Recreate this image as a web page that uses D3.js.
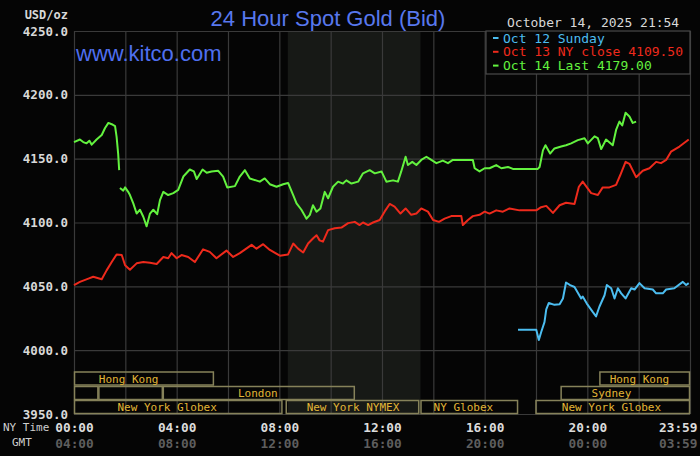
<!DOCTYPE html>
<html>
<head>
<meta charset="utf-8">
<script src="https://cdn.jsdelivr.net/npm/d3@7"></script>
<style>
  body { margin: 0; background: #050505; }
  svg { display: block; }
</style>
</head>
<body>
<div id="chart"></div>
<script>
// price series, [hour of NY day, price]; null = gap in the feed
var oct12 = [[17.3,4016],[18.01,4016],[18.11,4008],[18.2,4014],[18.33,4022],[18.4,4032],[18.5,4037],[18.72,4035.5],[18.92,4036],[19.05,4040.5],[19.17,4053],[19.33,4051],[19.5,4049.5],[19.76,4040.5],[19.82,4042],[19.98,4036.5],[20.21,4030],[20.34,4026.5],[20.47,4034],[20.67,4043],[20.76,4051],[20.93,4048.5],[21.06,4040.5],[21.19,4048.5],[21.32,4044.5],[21.49,4040.5],[21.71,4048.5],[21.84,4047.5],[22.03,4052.5],[22.23,4048.5],[22.55,4047.5],[22.68,4044.5],[22.94,4044.5],[23.07,4047.5],[23.39,4048.5],[23.72,4053.5],[23.85,4051],[23.95,4052.5]];

var oct13 = [[0,4051],[0.23,4053.5],[0.56,4056],[0.75,4057.5],[1.08,4055.5],[1.27,4062.5],[1.47,4069],[1.66,4075],[1.86,4074.5],[1.99,4066.5],[2.18,4063],[2.44,4068],[2.7,4069],[2.96,4068.5],[3.22,4067.5],[3.48,4073],[3.67,4072],[3.8,4076],[4,4072],[4.19,4074.5],[4.45,4073],[4.71,4069],[5.03,4079],[5.29,4077],[5.55,4072],[5.94,4078],[6.2,4073],[6.46,4076],[6.92,4082.5],[7.11,4079.5],[7.37,4083],[7.63,4078.5],[8.02,4074],[8.34,4075],[8.54,4083.5],[8.73,4079.5],[8.93,4076.5],[9.12,4083.5],[9.31,4087.5],[9.45,4090],[9.57,4086],[9.7,4085],[9.9,4094],[10.16,4095.5],[10.42,4096],[10.68,4099.5],[10.94,4100.5],[11.13,4098],[11.26,4100],[11.46,4098],[11.65,4100],[11.91,4102],[12.1,4108.5],[12.3,4114.5],[12.49,4112.5],[12.72,4107],[12.92,4111],[13.14,4106],[13.34,4107],[13.53,4111],[13.79,4108.5],[13.99,4102],[14.22,4100.5],[14.44,4103],[14.7,4105],[15.09,4105],[15.15,4098],[15.35,4102],[15.54,4105],[15.8,4106],[16,4108.5],[16.19,4107],[16.45,4109.5],[16.71,4108.5],[16.97,4111],[17.36,4109.5],[18.01,4109.5],[18.2,4112],[18.4,4113],[18.66,4107.5],[18.92,4113.5],[19.17,4115.5],[19.5,4114.5],[19.67,4128],[19.82,4132],[20.02,4126.5],[20.15,4123],[20.41,4121.5],[20.6,4127.5],[20.86,4127.5],[21.12,4129.5],[21.28,4137],[21.49,4147.5],[21.64,4146],[21.9,4135.5],[22.16,4140.5],[22.42,4142.5],[22.68,4147.5],[22.87,4146.5],[23.07,4149],[23.26,4155.5],[23.59,4159.5],[23.95,4165]];

var oct14 = [[0,4163],[0.23,4165],[0.36,4163],[0.49,4162],[0.6,4164],[0.69,4161],[0.88,4165],[1.08,4168.5],[1.21,4174],[1.34,4178],[1.47,4177],[1.6,4175.5],[1.66,4167],[1.72,4154],[1.76,4141],null,[1.79,4127],[1.92,4125],[1.99,4127.5],[2.11,4124],[2.18,4121.5],[2.31,4115],[2.44,4107],[2.57,4110],[2.7,4104.5],[2.83,4097],[2.96,4107],[3.09,4110],[3.24,4106.5],[3.35,4117.5],[3.48,4124],[3.67,4121.5],[3.87,4123],[4.06,4125.5],[4.26,4136],[4.51,4141.5],[4.67,4140],[4.78,4134],[5.01,4141.5],[5.17,4139],[5.36,4140],[5.62,4140.5],[5.81,4136],[5.97,4127.5],[6.27,4128.5],[6.46,4136],[6.66,4141],[6.85,4134.5],[7.24,4132],[7.43,4134.5],[7.63,4130],[7.89,4128],[8.15,4130],[8.34,4131],[8.54,4121.5],[8.67,4115],[8.86,4110],[9.06,4103],[9.19,4106],[9.31,4113.5],[9.45,4108.5],[9.6,4111],[9.77,4124],[9.9,4119],[10.09,4128],[10.29,4132],[10.48,4130.5],[10.61,4133],[10.81,4130.5],[11.07,4132],[11.26,4138.5],[11.52,4141],[11.72,4138.5],[11.98,4140],[12.17,4132],[12.43,4133],[12.62,4132],[12.75,4140],[12.92,4151.5],[13.01,4145],[13.18,4147.5],[13.34,4145],[13.53,4149],[13.73,4151.5],[13.92,4149],[14.12,4146.5],[14.37,4148.5],[14.57,4146.5],[14.76,4149],[15.09,4149],[15.54,4149],[15.61,4142.5],[15.8,4140],[16,4142.5],[16.19,4142.5],[16.45,4145],[16.65,4142.5],[16.91,4143.5],[17.1,4142],[18.07,4142],[18.14,4143.5],[18.27,4156.5],[18.37,4160.5],[18.55,4154],[18.72,4158],[18.98,4159.5],[19.17,4160.5],[19.37,4162],[19.63,4164.5],[19.89,4166],[20.02,4162],[20.28,4167.5],[20.41,4166],[20.54,4157.5],[20.73,4165],[20.99,4160.5],[21.12,4172.5],[21.25,4179],[21.36,4176],[21.49,4186],[21.64,4183],[21.77,4178],[21.9,4179]];

var legendLabels = ["Oct 12 Sunday", "Oct 13 NY close 4109.50", "Oct 14 Last 4179.00"];
var yTicks = [3950, 4000, 4050, 4100, 4150, 4200, 4250];
var xTicks = [0, 4, 8, 12, 16, 20, 24];
var nymexHours = [8.33, 13.5];

// trading sessions, one array per band (top to bottom): [start, end, label, label centre]
var sessionsTop = [[0, 5.45, "Hong Kong", 2.13], [20.47, 24, "Hong Kong", 22.03]];
var sessionsMid = [[0, 0.95, "", 0], [0.95, 3.46, "", 0], [3.46, 10.94, "London", 7.16], [18.96, 24, "Sydney", 20.94]];
var sessionsLow = [[0, 8.12, "New York Globex", 3.63], [8.25, 13.45, "New York NYMEX", 10.87], [13.5, 17.3, "NY Globex", 15.17], [17.98, 24, "New York Globex", 20.94]];

var width = 700, height = 456;
var margin = {top: 31, right: 10, bottom: 42, left: 74};
var mono = "'DejaVu Sans Mono', monospace";
var colors = ["#4cbdf0", "#ee2a1c", "#63f23f"];

var svg = d3.select("#chart").append("svg")
  .attr("width", width)
  .attr("height", height);

svg.append("rect").attr("width", width).attr("height", height).attr("fill", "#050505");

var x = d3.scaleLinear().domain([0, 24]).range([margin.left, width - margin.right]);
var y = d3.scaleLinear().domain([3950, 4250]).range([height - margin.bottom, margin.top]);

// NYMEX shaded hours
svg.append("rect")
  .attr("x", x(nymexHours[0]))
  .attr("y", y(4250))
  .attr("width", x(nymexHours[1]) - x(nymexHours[0]))
  .attr("height", y(3950) - y(4250))
  .attr("fill", "#171916");

// grid
svg.append("g")
  .attr("transform", `translate(0, ${y(3950)})`)
  .call(d3.axisBottom(x).tickValues(d3.range(0, 25, 2)).tickSize(-(y(3950) - y(4250))).tickFormat(""))
  .call(g => g.select(".domain").remove())
  .selectAll("line").attr("stroke", "#3a3a3a").attr("stroke-width", 1.2);

svg.append("g")
  .attr("transform", `translate(${x(0)}, 0)`)
  .call(d3.axisLeft(y).tickValues(yTicks).tickSize(-(x(24) - x(0))).tickFormat(""))
  .call(g => g.select(".domain").remove())
  .selectAll("line").attr("stroke", "#3a3a3a").attr("stroke-width", 1.2);

// y labels
svg.append("g")
  .attr("transform", `translate(${x(0)}, 0)`)
  .call(d3.axisLeft(y).tickValues(yTicks).tickSize(0).tickPadding(6).tickFormat(d3.format(".1f")))
  .call(g => g.select(".domain").remove())
  .selectAll("text")
  .attr("fill", "#d8d8d8")
  .attr("font-family", mono)
  .attr("font-weight", "bold")
  .attr("font-size", 12.5);

svg.append("text")
  .attr("x", 68).attr("y", 19)
  .attr("text-anchor", "end")
  .attr("fill", "#d8d8d8")
  .attr("font-family", mono)
  .attr("font-weight", "bold")
  .attr("font-size", 12)
  .text("USD/oz");

// session bands
var bands = [sessionsTop, sessionsMid, sessionsLow];
var bandTop = [372, 386.5, 400.5];
bands.forEach(function(rows, i) {
  var g = svg.append("g");
  g.selectAll("rect").data(rows).enter().append("rect")
    .attr("x", d => x(d[0]) + 0.5)
    .attr("y", bandTop[i])
    .attr("width", d => x(d[1]) - x(d[0]) - 1)
    .attr("height", 13)
    .attr("fill", "none")
    .attr("stroke", "#86825a")
    .attr("stroke-width", 1.5);
  g.selectAll("text").data(rows.filter(d => d[2])).enter().append("text")
    .attr("x", d => x(d[3]))
    .attr("y", bandTop[i] + 10.5)
    .attr("text-anchor", "middle")
    .attr("fill", "#e2b536")
    .attr("font-family", mono)
    .attr("font-size", 11)
    .text(d => d[2]);
});

// lines
var line = d3.line()
  .defined(d => d !== null)
  .x(d => x(d[0]))
  .y(d => y(d[1]));

[oct12, oct13, oct14].forEach(function(s, i) {
  svg.append("path")
    .datum(s)
    .attr("fill", "none")
    .attr("stroke", colors[i])
    .attr("stroke-width", 2)
    .attr("stroke-linejoin", "round")
    .attr("d", line);
});

// x labels, NY time and GMT
function hhmm(h) {
  return h === 24 ? "23:59" : d3.format("02")(h) + ":00";
}
function gmt(h) {
  return h === 24 ? "03:59" : d3.format("02")((h + 4) % 24) + ":00";
}
var xa = svg.append("g")
  .attr("transform", `translate(0, ${y(3950)})`)
  .call(d3.axisBottom(x).tickValues(xTicks).tickSize(0).tickPadding(9).tickFormat(hhmm));
var xb = svg.append("g")
  .attr("transform", `translate(0, ${y(3950) + 15.5})`)
  .call(d3.axisBottom(x).tickValues(xTicks).tickSize(0).tickPadding(9).tickFormat(gmt));
[[xa, "#dcdcdc"], [xb, "#5e5e5e"]].forEach(function(p) {
  p[0].select(".domain").remove();
  p[0].selectAll("text")
    .attr("fill", p[1])
    .attr("font-family", mono)
    .attr("font-weight", "bold")
    .attr("font-size", 12.8);
  p[0].selectAll(".tick").filter(d => d === 24).select("text").attr("text-anchor", "end").attr("x", 7);
});

svg.append("text").attr("x", 3).attr("y", 431)
  .attr("fill", "#cfcfcf").attr("font-family", mono).attr("font-size", 11).text("NY Time");
svg.append("text").attr("x", 12).attr("y", 446)
  .attr("fill", "#cfcfcf").attr("font-family", mono).attr("font-size", 11).text("GMT");

// titles
svg.append("text")
  .attr("x", 328).attr("y", 26)
  .attr("text-anchor", "middle")
  .attr("fill", "#5878ee")
  .attr("font-family", "'Liberation Sans', Arial, sans-serif")
  .attr("font-size", 22)
  .text("24 Hour Spot Gold (Bid)");

svg.append("text")
  .attr("x", 76).attr("y", 61)
  .attr("fill", "#4f6ff0")
  .attr("font-family", "'Liberation Sans', Arial, sans-serif")
  .attr("font-size", 22)
  .text("www.kitco.com");

svg.append("text")
  .attr("x", 507).attr("y", 27)
  .attr("fill", "#d8d8d8")
  .attr("font-family", mono)
  .attr("font-size", 13)
  .text("October 14, 2025 21:54");

// legend
var legend = svg.append("g");
legend.append("rect")
  .attr("x", 486).attr("y", 31)
  .attr("width", 204).attr("height", 43)
  .attr("fill", "#050505")
  .attr("stroke", "#4a4a4a")
  .attr("stroke-width", 1.2);
legendLabels.forEach(function(t, i) {
  legend.append("rect")
    .attr("x", 493).attr("y", 37 + i * 13.8)
    .attr("width", 5.5).attr("height", 2)
    .attr("fill", colors[i]);
  legend.append("text")
    .attr("x", 503).attr("y", 42.5 + i * 13.8)
    .attr("fill", colors[i])
    .attr("font-family", mono)
    .attr("font-size", 13)
    .text(t);
});
</script>
</body>
</html>
